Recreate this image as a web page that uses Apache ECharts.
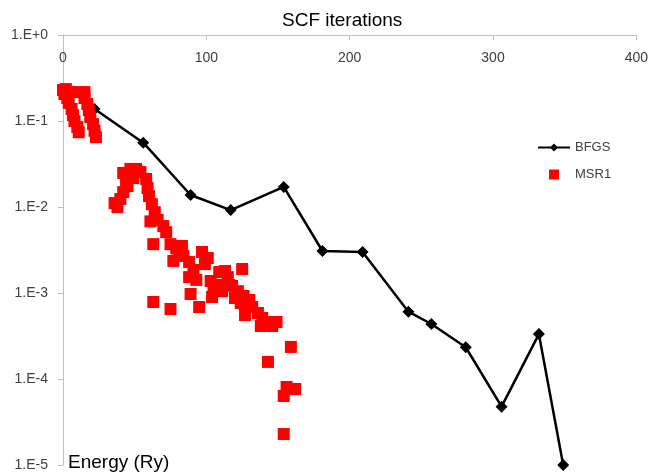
<!DOCTYPE html>
<html>
<head>
<meta charset="utf-8">
<script src="https://cdn.jsdelivr.net/npm/echarts@6/dist/echarts.min.js"></script>
<style>
  html, body { margin: 0; padding: 0; background: #ffffff; }
  #chart { width: 651px; height: 475px; }
</style>
</head>
<body>
<div id="chart"></div>
<script>
// BFGS relaxation: cumulative SCF iteration vs. energy error (Ry)
const bfgsIter   = [22, 56, 89, 117, 154, 181, 209, 241, 257, 281, 306, 332, 349];
const bfgsEnergy = [0.138, 0.056, 0.0138, 0.0092, 0.0171, 0.00308, 0.0030,
                    6.06e-4, 4.36e-4, 2.34e-4, 4.77e-5, 3.33e-4, 1.0e-5];

// MSR1 mixing: cumulative SCF iteration vs. energy error (Ry)
const msr1Iter = [
  0, 2, 1, 3, 4, 6, 7, 8, 10, 11,
  10, 15, 15, 17, 18, 19, 21, 22, 23,
  38, 36, 40, 42, 42, 47, 51, 54, 44, 45, 49, 58, 59, 60, 62, 64, 66, 70, 72,
  63, 75, 79, 81, 77, 63, 75, 61,
  83, 84, 88, 91, 88, 93, 97, 101, 99, 89, 95,
  103, 105, 104, 108, 109, 113, 115, 111, 116, 125,
  118, 122, 126, 130, 120, 124, 127, 132, 136, 139, 143, 146, 138, 149,
  159, 143, 156, 162, 154, 154
];
const msr1Energy = [
  0.229, 0.235, 0.206, 0.185, 0.162, 0.138, 0.117, 0.100, 0.085, 0.074,
  0.217, 0.217, 0.185, 0.158, 0.134, 0.111, 0.092, 0.077, 0.065,
  0.0100, 0.0111, 0.0124, 0.0149, 0.0249, 0.0277, 0.0277, 0.0255, 0.0206, 0.0175, 0.0217,
  0.0212, 0.0166, 0.0134, 0.0108, 0.0087, 0.0071, 0.0060, 0.0051,
  0.0037, 0.0037, 0.0033, 0.0027, 0.00236, 7.86e-4, 6.52e-4, 0.0068,
  0.00352, 0.00269, 0.00229, 0.00185, 0.00153, 0.00142, 0.0030, 0.00255, 0.00217, 9.73e-4, 6.87e-4,
  0.00138, 0.00111, 8.98e-4, 0.00124, 0.00175, 0.00180, 0.00153, 0.00105, 0.00124, 0.0019,
  0.00121, 0.00105, 9.23e-4, 8.3e-4, 8.75e-4, 7.65e-4, 5.55e-4, 6.87e-4, 5.85e-4, 5.12e-4,
  4.6e-4, 4.13e-4, 4.13e-4, 4.6e-4,
  2.36e-4, 1.58e-4, 8.07e-5, 7.65e-5, 6.34e-5, 2.29e-5
];

// Axis ticks
const xMin = 0, xMax = 400, xStep = 100;
const yTickValues = [1e-5, 1e-4, 1e-3, 1e-2, 1e-1, 1];
const yTickLabels = ['1.E-5', '1.E-4', '1.E-3', '1.E-2', '1.E-1', '1.E+0'];

const pair = (xs, ys) => xs.map((x, i) => [x, ys[i]]);

const labelFont = 'Liberation Sans, Arial, sans-serif';
const axisGray = '#bfbfbf';
const textGray = '#404040';

const chart = echarts.init(document.getElementById('chart'), null, { renderer: 'canvas' });

chart.setOption({
  backgroundColor: '#ffffff',
  animation: false,
  title: [
    {
      text: 'SCF iterations',
      left: 282, top: 11, padding: 0,
      textStyle: { fontFamily: labelFont, fontSize: 19, fontWeight: 'normal', color: '#000000' }
    },
    {
      text: 'Energy (Ry)',
      left: 68, top: 453, padding: 0,
      textStyle: { fontFamily: labelFont, fontSize: 19, fontWeight: 'normal', color: '#000000' }
    }
  ],
  legend: {
    orient: 'vertical',
    left: 532, top: 136,
    itemWidth: 32, itemHeight: 10, itemGap: 14,
    textStyle: { fontFamily: labelFont, fontSize: 13, color: textGray },
    data: [
      { name: 'BFGS' },
      { name: 'MSR1', icon: 'path://M0,0H10V10H0Z' }
    ]
  },
  grid: { left: 63, right: 13, top: 35, bottom: 10, containLabel: false },
  xAxis: {
    type: 'value',
    position: 'top',
    min: xMin, max: xMax, interval: xStep,
    splitLine: { show: false },
    axisLine: { show: true, lineStyle: { color: axisGray, width: 1 } },
    axisTick: { show: true, inside: true, length: 5, lineStyle: { color: axisGray } },
    axisLabel: {
      inside: true, margin: 16,
      fontFamily: labelFont, fontSize: 14, color: textGray
    }
  },
  yAxis: {
    type: 'log',
    logBase: 10,
    min: yTickValues[0], max: yTickValues[yTickValues.length - 1],
    splitLine: { show: false },
    minorTick: { show: false },
    axisLine: { show: true, lineStyle: { color: axisGray, width: 1 } },
    axisTick: { show: true, inside: false, length: 5, lineStyle: { color: axisGray } },
    axisLabel: {
      margin: 15,
      fontFamily: labelFont, fontSize: 14, color: textGray,
      formatter: function (v) {
        const e = Math.round(Math.log10(v));
        const idx = yTickValues.findIndex(t => Math.round(Math.log10(t)) === e);
        return idx >= 0 ? yTickLabels[idx] : '';
      }
    }
  },
  series: [
    {
      name: 'BFGS',
      type: 'line',
      data: pair(bfgsIter, bfgsEnergy),
      symbol: 'diamond',
      symbolSize: 12,
      showAllSymbol: true,
      itemStyle: { color: '#000000' },
      lineStyle: { color: '#000000', width: 2.5 },
      z: 2
    },
    {
      name: 'MSR1',
      type: 'scatter',
      data: pair(msr1Iter, msr1Energy),
      symbol: 'rect',
      symbolSize: 12,
      itemStyle: { color: '#ff0000', opacity: 1 },
      z: 3
    }
  ]
});
</script>
</body>
</html>
